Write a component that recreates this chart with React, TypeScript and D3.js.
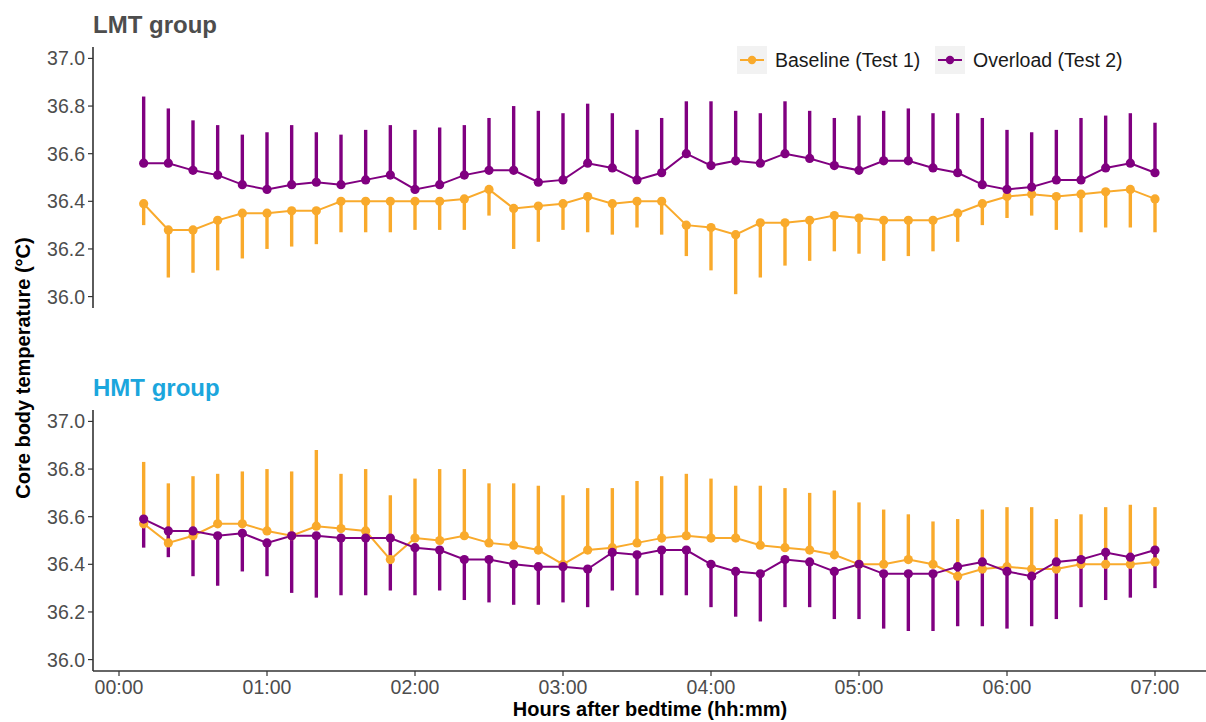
import React from "react";
import * as d3 from "d3";

const minutes = [10, 20, 30, 40, 50, 60, 70, 80, 90, 100, 110, 120, 130, 140, 150, 160, 170, 180, 190, 200, 210, 220, 230, 240, 250, 260, 270, 280, 290, 300, 310, 320, 330, 340, 350, 360, 370, 380, 390, 400, 410, 420];
const xTicks = [0, 60, 120, 180, 240, 300, 360, 420];
const xTickLabels = ["00:00", "01:00", "02:00", "03:00", "04:00", "05:00", "06:00", "07:00"];
const yTicks = [36.0, 36.2, 36.4, 36.6, 36.8, 37.0];

const lmtBaseMean = [36.39, 36.28, 36.28, 36.32, 36.35, 36.35, 36.36, 36.36, 36.40, 36.40, 36.40, 36.40, 36.40, 36.41, 36.45, 36.37, 36.38, 36.39, 36.42, 36.39, 36.40, 36.40, 36.30, 36.29, 36.26, 36.31, 36.31, 36.32, 36.34, 36.33, 36.32, 36.32, 36.32, 36.35, 36.39, 36.42, 36.43, 36.42, 36.43, 36.44, 36.45, 36.41];
const lmtBaseLower = [36.30, 36.08, 36.10, 36.11, 36.16, 36.20, 36.21, 36.22, 36.27, 36.27, 36.27, 36.28, 36.28, 36.28, 36.34, 36.20, 36.23, 36.28, 36.27, 36.26, 36.29, 36.26, 36.17, 36.11, 36.01, 36.08, 36.13, 36.15, 36.19, 36.18, 36.15, 36.17, 36.19, 36.23, 36.30, 36.33, 36.34, 36.28, 36.27, 36.29, 36.29, 36.27];
const lmtOverMean = [36.56, 36.56, 36.53, 36.51, 36.47, 36.45, 36.47, 36.48, 36.47, 36.49, 36.51, 36.45, 36.47, 36.51, 36.53, 36.53, 36.48, 36.49, 36.56, 36.54, 36.49, 36.52, 36.60, 36.55, 36.57, 36.56, 36.60, 36.58, 36.55, 36.53, 36.57, 36.57, 36.54, 36.52, 36.47, 36.45, 36.46, 36.49, 36.49, 36.54, 36.56, 36.52];
const lmtOverUpper = [36.84, 36.79, 36.74, 36.72, 36.68, 36.69, 36.72, 36.69, 36.68, 36.70, 36.72, 36.70, 36.71, 36.72, 36.75, 36.80, 36.78, 36.77, 36.81, 36.77, 36.70, 36.75, 36.82, 36.82, 36.78, 36.77, 36.82, 36.78, 36.75, 36.76, 36.78, 36.79, 36.77, 36.77, 36.75, 36.70, 36.69, 36.70, 36.75, 36.76, 36.77, 36.73];

const hmtBaseMean = [36.57, 36.49, 36.52, 36.57, 36.57, 36.54, 36.52, 36.56, 36.55, 36.54, 36.42, 36.51, 36.50, 36.52, 36.49, 36.48, 36.46, 36.40, 36.46, 36.47, 36.49, 36.51, 36.52, 36.51, 36.51, 36.48, 36.47, 36.46, 36.44, 36.40, 36.40, 36.42, 36.40, 36.35, 36.38, 36.39, 36.38, 36.38, 36.40, 36.40, 36.40, 36.41];
const hmtBaseUpper = [36.83, 36.74, 36.77, 36.78, 36.79, 36.80, 36.79, 36.88, 36.78, 36.80, 36.69, 36.76, 36.80, 36.80, 36.74, 36.74, 36.73, 36.69, 36.72, 36.72, 36.75, 36.77, 36.78, 36.76, 36.73, 36.73, 36.72, 36.70, 36.71, 36.66, 36.63, 36.61, 36.58, 36.59, 36.63, 36.64, 36.64, 36.59, 36.61, 36.64, 36.65, 36.64];
const hmtOverMean = [36.59, 36.54, 36.54, 36.52, 36.53, 36.49, 36.52, 36.52, 36.51, 36.51, 36.51, 36.47, 36.46, 36.42, 36.42, 36.40, 36.39, 36.39, 36.38, 36.45, 36.44, 36.46, 36.46, 36.40, 36.37, 36.36, 36.42, 36.41, 36.37, 36.40, 36.36, 36.36, 36.36, 36.39, 36.41, 36.37, 36.35, 36.41, 36.42, 36.45, 36.43, 36.46];
const hmtOverLower = [36.47, 36.43, 36.35, 36.31, 36.37, 36.35, 36.28, 36.26, 36.27, 36.27, 36.29, 36.27, 36.29, 36.25, 36.24, 36.23, 36.23, 36.24, 36.22, 36.29, 36.27, 36.27, 36.27, 36.22, 36.18, 36.16, 36.22, 36.22, 36.17, 36.17, 36.13, 36.12, 36.12, 36.14, 36.14, 36.13, 36.14, 36.17, 36.22, 36.25, 36.26, 36.30];

const seriesNames = ["Baseline (Test 1)", "Overload (Test 2)"];
const ORANGE = "#F9AA2C";
const PURPLE = "#800080";
const FONT = "'Liberation Sans', Arial, Helvetica, sans-serif";

const x = d3.scaleLinear().domain([0, 420]).range([119, 1155]);

type SeriesDef = { mean: number[]; err: number[]; color: string };

function Panel({ top, bottom, title, titleColor, series, showX }: { top: number; bottom: number; title: string; titleColor: string; series: SeriesDef[]; showX: boolean }) {
  const y = d3.scaleLinear().domain([35.952, 37.048]).range([bottom, top]);
  const line = d3.line<number>().x((_, i) => x(minutes[i])).y((d) => y(d));
  return (
    <g>
      <text x={93} y={top - 14} fontFamily={FONT} fontWeight="bold" fontSize={24} fill={titleColor}>{title}</text>
      <line x1={93} x2={93} y1={top} y2={bottom} stroke="#333" strokeWidth={1.6} />
      {yTicks.map((t) => (
        <g key={t}>
          <line x1={88} x2={93} y1={y(t)} y2={y(t)} stroke="#333" strokeWidth={1.2} />
          <text x={85} y={y(t)} dy="0.36em" textAnchor="end" fontFamily={FONT} fontSize={19.5} fill="#4D4D4D">{t.toFixed(1)}</text>
        </g>
      ))}
      {showX && (
        <g>
          <line x1={93} x2={1206} y1={bottom} y2={bottom} stroke="#333" strokeWidth={1.6} />
          {xTicks.map((t, i) => (
            <g key={t}>
              <line x1={x(t)} x2={x(t)} y1={bottom} y2={bottom + 5} stroke="#333" strokeWidth={1.2} />
              <text x={x(t)} y={bottom + 23} textAnchor="middle" fontFamily={FONT} fontSize={19.5} fill="#4D4D4D">{xTickLabels[i]}</text>
            </g>
          ))}
        </g>
      )}
      {series.map((s, si) => (
        <g key={"e" + si}>
          {s.mean.map((m, i) => (
            <line key={i} x1={x(minutes[i])} x2={x(minutes[i])} y1={y(m)} y2={y(s.err[i])} stroke={s.color} strokeWidth={3.4} />
          ))}
        </g>
      ))}
      {series.map((s, si) => (
        <path key={"l" + si} d={line(s.mean) || ""} fill="none" stroke={s.color} strokeWidth={2} />
      ))}
      {series.map((s, si) => (
        <g key={"p" + si}>
          {s.mean.map((m, i) => (
            <circle key={i} cx={x(minutes[i])} cy={y(m)} r={4.6} fill={s.color} />
          ))}
        </g>
      ))}
    </g>
  );
}

export default function App() {
  const legendColors = [ORANGE, PURPLE];
  const legendX = [737, 935];
  return (
    <svg width={1206} height={722} style={{ position: "absolute", left: 0, top: 0, background: "#fff" }}>
      <rect x={0} y={0} width={1206} height={722} fill="#fff" />
      <Panel
        top={47}
        bottom={308}
        title="LMT group"
        titleColor="#4D4D4D"
        showX={false}
        series={[
          { mean: lmtBaseMean, err: lmtBaseLower, color: ORANGE },
          { mean: lmtOverMean, err: lmtOverUpper, color: PURPLE },
        ]}
      />
      <Panel
        top={410}
        bottom={671}
        title="HMT group"
        titleColor="#1BA6DD"
        showX={true}
        series={[
          { mean: hmtBaseMean, err: hmtBaseUpper, color: ORANGE },
          { mean: hmtOverMean, err: hmtOverLower, color: PURPLE },
        ]}
      />
      {seriesNames.map((n, i) => (
        <g key={n}>
          <rect x={legendX[i]} y={46} width={30} height={28} fill="#F2F2F2" />
          <line x1={legendX[i] + 3} x2={legendX[i] + 27} y1={60} y2={60} stroke={legendColors[i]} strokeWidth={2} />
          <circle cx={legendX[i] + 15} cy={60} r={4.2} fill={legendColors[i]} />
          <text x={legendX[i] + 38} y={60} dy="0.36em" fontFamily={FONT} fontSize={19.5} fill="#1A1A1A">{n}</text>
        </g>
      ))}
      <text x={650} y={716} textAnchor="middle" fontFamily={FONT} fontWeight="bold" fontSize={20} fill="#000">Hours after bedtime (hh:mm)</text>
      <text transform="translate(30,368) rotate(-90)" textAnchor="middle" fontFamily={FONT} fontWeight="bold" fontSize={20} fill="#000">Core body temperature (°C)</text>
    </svg>
  );
}
